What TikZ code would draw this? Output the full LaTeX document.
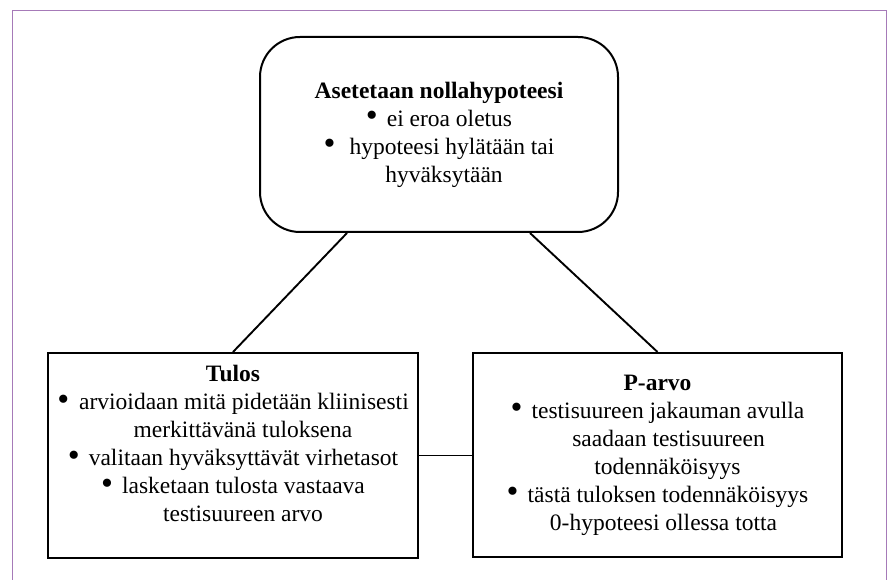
\documentclass[tikz,border=0pt]{standalone}
\usepackage{fontspec}
\setmainfont{Liberation Serif}
\usepackage{xcolor}
\usepackage{tikz}

\definecolor{framepurple}{RGB}{166,122,184}
\newcommand{\dotbul}{\raisebox{-0.5pt}{\scalebox{1.45}{\textbullet}}}
\newcommand{\blt}{\dotbul\hspace{9pt}}
\tikzset{box/.style={draw,line width=2pt,align=center,inner sep=0pt,
		font=\fontsize{23.5}{28}\selectfont}}

\begin{document}
\begin{tikzpicture}[x=1pt,y=1pt]
		\useasboundingbox (0,0) rectangle (893,580);
		\draw[framepurple,line width=0.9pt] (12,0) -- (12,570) -- (886,570) -- (886,0);
		%
		\node[box,rounded corners=40pt,minimum width=358pt,minimum height=195pt] (hyp) at (439,445.5)
		{\textbf{Asetetaan nollahypoteesi}\\
			\blt ei eroa oletus\\
			\dotbul\hspace{14pt}hypoteesi hylätään tai\\
			\hspace*{10pt}hyväksytään};
		\node[box,minimum width=370pt,minimum height=205pt] (tulos) at (233,124.5)
		{\textbf{Tulos}\\
			\dotbul\hspace{10pt}arvioidaan mitä pidetään kliinisesti\\
			\hspace*{20pt}merkittävänä tuloksena\\
			\blt valitaan hyväksyttävät virhetasot\\
			\blt lasketaan tulosta vastaava\\
			\hspace*{20pt}testisuureen arvo\\[-4pt]~};
		\node[box,minimum width=369pt,minimum height=204pt] (parvo) at (657.5,125)
		{\textbf{P-arvo}\\
			\blt testisuureen jakauman avulla\\
			\hspace*{22pt}saadaan testisuureen\\
			\hspace*{20pt}todennäköisyys\\
			\blt tästä tuloksen todennäköisyys\\
			\hspace*{12pt}0-hypoteesi ollessa totta};
		%
		\path[line width=1.9pt]
		([xshift=-92pt]hyp.south) edge (tulos.north)
		([xshift=91pt]hyp.south) edge (parvo.north)
		(tulos.east) edge (tulos.east -| parvo.west);
		\end{tikzpicture}
\end{document}
